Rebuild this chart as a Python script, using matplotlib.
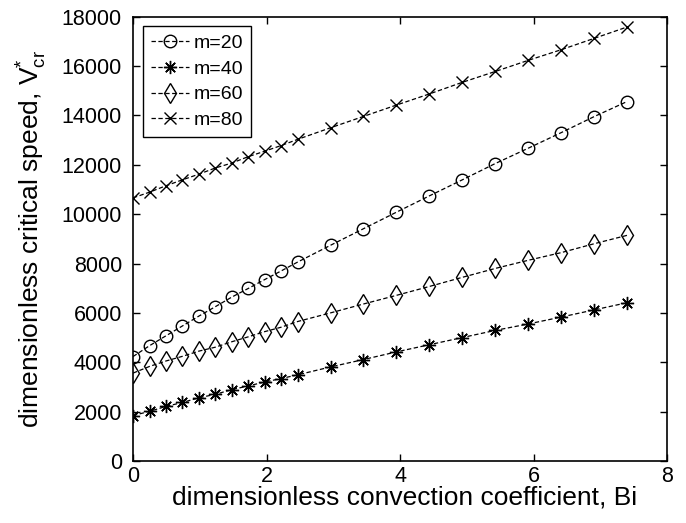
import numpy as np
import matplotlib
matplotlib.use("Agg")
import matplotlib.pyplot as plt

plt.rcParams['font.family'] = ['Liberation Sans', 'DejaVu Sans']
plt.rcParams['mathtext.fontset'] = 'custom'
plt.rcParams['mathtext.rm'] = 'Liberation Sans'
plt.rcParams['mathtext.it'] = 'Liberation Sans'

# Biot number values
bi = [0.0, 0.247, 0.493, 0.740, 0.987, 1.233, 1.480, 1.727, 1.973, 2.220, 2.467,
      2.960, 3.453, 3.947, 4.440, 4.933, 5.427, 5.920, 6.413, 6.907, 7.400]

m20 = [4230, 4670, 5070, 5470, 5870, 6250, 6640, 6990, 7350, 7700, 8060,
       8740, 9410, 10080, 10740, 11390, 12050, 12670, 13300, 13950, 14560]
m40 = [1840, 2010, 2210, 2370, 2560, 2700, 2890, 3040, 3200, 3340, 3490,
       3810, 4110, 4420, 4710, 5000, 5290, 5550, 5830, 6120, 6410]
m60 = [3560, 3830, 4050, 4240, 4450, 4610, 4830, 5030, 5240, 5420, 5650,
       6000, 6360, 6710, 7070, 7440, 7800, 8130, 8440, 8800, 9140]
m80 = [10660, 10890, 11150, 11390, 11620, 11870, 12070, 12330, 12550, 12780, 13030,
       13500, 13960, 14420, 14870, 15340, 15780, 16230, 16660, 17120, 17580]

labels = ['m=20', 'm=40', 'm=60', 'm=80']
xticks = [0, 2, 4, 6, 8]
yticks = [0, 2000, 4000, 6000, 8000, 10000, 12000, 14000, 16000, 18000]

fig = plt.figure(figsize=(6.86, 5.23), dpi=100)
ax = fig.add_axes([0.1939, 0.1186, 0.7784, 0.8495])

ls = (0, (3.5, 2))
common = dict(color='black', linestyle=ls, linewidth=0.9, markerfacecolor='none',
              markeredgecolor='black', markeredgewidth=1.0)
ax.plot(bi, m20, marker='o', markersize=9, label=labels[0], **common)
ax.plot(bi, m40, marker=(8, 2, 0), markersize=9.5, label=labels[1], **common)
ax.plot(bi, m60, marker='d', markersize=10.5, label=labels[2], **common)
ax.plot(bi, m80, marker='x', markersize=8, label=labels[3], **common)

ax.set_xlim(0, 8)
ax.set_ylim(0, 18000)
ax.set_xticks(xticks)
ax.set_yticks(yticks)
ax.tick_params(direction='in', top=True, right=True, labelsize=15.5, length=5,
               width=1.0)
ax.tick_params(axis='x', pad=3.5)
ax.tick_params(axis='y', pad=8)
for s in ax.spines.values():
    s.set_linewidth(1.2)

ax.set_xlabel('dimensionless convection coefficient, Bi', fontsize=19, labelpad=-1)
ax.set_ylabel(r'dimensionless critical speed, V$^{*}_{\mathrm{cr}}$', fontsize=19, labelpad=9)
ax.xaxis.label.set_x(0.508)

leg = ax.legend(loc='upper left', fontsize=14, frameon=True, fancybox=False,
                edgecolor='black', framealpha=1, handlelength=2.0,
                borderaxespad=0.5, labelspacing=0.42, handletextpad=0.2,
                borderpad=0.4)
leg.get_frame().set_linewidth(1.0)

fig.savefig('out.png', dpi=100)
